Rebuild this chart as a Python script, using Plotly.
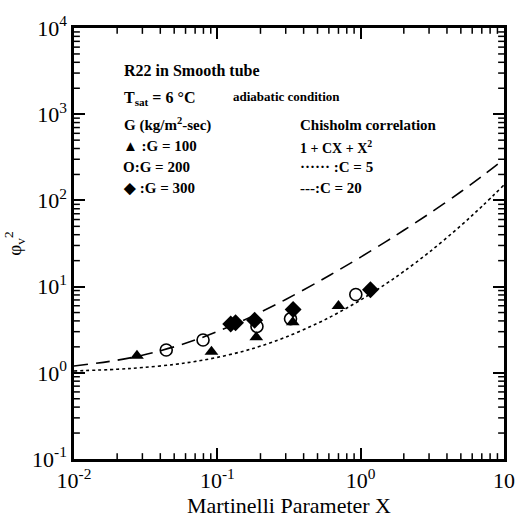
import plotly.graph_objects as go

# Data
g100_x = [0.0275, 0.091, 0.187, 0.336, 0.70]
g100_y = [1.58, 1.75, 2.59, 3.86, 5.97]
g200_x = [0.044, 0.0795, 0.189, 0.324, 0.925]
g200_y = [1.84, 2.40, 3.45, 4.23, 8.1]
g300_x = [0.124, 0.134, 0.182, 0.338, 1.17]
g300_y = [3.68, 3.80, 4.07, 5.42, 9.2]

# Chisholm correlation curves read at sample points
curve_x = [0.01, 0.02, 0.03, 0.05, 0.07, 0.1, 0.15, 0.2, 0.3, 0.5, 0.7, 1, 1.5, 2, 3, 5, 7, 10]
c5_y = [1.05, 1.10, 1.15, 1.25, 1.355, 1.51, 1.77, 2.04, 2.59, 3.75, 4.99, 7.0, 10.75, 15.0, 25.0, 51.0, 85.0, 151.0]
c20_y = [1.20, 1.40, 1.60, 2.00, 2.40, 3.01, 4.02, 5.04, 7.09, 11.25, 15.49, 22.0, 33.25, 45.0, 70.0, 126.0, 190.0, 301.0]

x_tickvals = [0.01, 0.1, 1, 10]
x_ticktext = ["10<sup>-2</sup>", "10<sup>-1</sup>", "10<sup>0</sup>", "10"]
y_tickvals = [0.1, 1, 10, 100, 1000, 10000]
y_ticktext = ["10<sup>-1</sup>", "10<sup>0</sup>", "10<sup>1</sup>", "10<sup>2</sup>", "10<sup>3</sup>", "10<sup>4</sup>"]
x_decades = [0.01, 0.1, 1]
y_decades = [0.1, 1, 10, 100, 1000]
minor_mult = [2, 3, 4, 5, 6, 7, 8, 9]
x_minor = [d * m for d in x_decades for m in minor_mult]
y_minor = [d * m for d in y_decades for m in minor_mult]

FONT = "Liberation Serif"

fig = go.Figure()
fig.add_trace(go.Scatter(x=curve_x, y=c5_y, mode="lines", line=dict(color="black", width=1.6, dash="dot", shape="spline")))
fig.add_trace(go.Scatter(x=curve_x, y=c20_y, mode="lines", line=dict(color="black", width=1.6, dash="14px,8px", shape="spline")))
fig.add_trace(go.Scatter(x=g100_x, y=g100_y, mode="markers", marker=dict(symbol="triangle-up", size=12, color="black")))
fig.add_trace(go.Scatter(x=g200_x, y=g200_y, mode="markers", marker=dict(symbol="circle-open", size=12, color="black", line=dict(width=1.6))))
fig.add_trace(go.Scatter(x=g300_x, y=g300_y, mode="markers", marker=dict(symbol="diamond", size=13, color="black")))

axis_common = dict(
    type="log", showline=True, linecolor="black", linewidth=2.5, mirror="ticks",
    ticks="inside", ticklen=11, tickwidth=2, tickcolor="black", showgrid=False, zeroline=False,
    tickfont=dict(family=FONT, size=22, color="black"),
)

fig.update_layout(
    xaxis=dict(range=[-2, 1], tickmode="array", tickvals=x_tickvals, ticktext=x_ticktext,
               title=dict(text="Martinelli Parameter X", font=dict(family=FONT, size=22, color="black"), standoff=0),
               **axis_common),
    yaxis=dict(range=[-1, 4], tickmode="array", tickvals=y_tickvals, ticktext=y_ticktext,
               title=dict(text="φ<sub>v</sub><sup>2</sup>", font=dict(family=FONT, size=19, color="black"), standoff=6),
               **axis_common),
)

# minor ticks on all four sides, placed through the axes' own scales
MINOR_LEN = 6
L, R, T, B = 74, 14, 19, 60
W, H = 527, 521
pw, ph = W - L - R, H - T - B
for v in x_minor:
    for y0, y1 in [(0, MINOR_LEN / ph), (1, 1 - MINOR_LEN / ph)]:
        fig.add_shape(type="line", xref="x", yref="paper", x0=v, x1=v, y0=y0, y1=y1,
                      line=dict(color="black", width=1.5))
for v in y_minor:
    for x0, x1 in [(0, MINOR_LEN / pw), (1, 1 - MINOR_LEN / pw)]:
        fig.add_shape(type="line", xref="paper", yref="y", x0=x0, x1=x1, y0=v, y1=v,
                      line=dict(color="black", width=1.5))

def txt(x, y, s, size=15):
    fig.add_annotation(x=x, y=y, xref="paper", yref="paper", text=s, showarrow=False,
                       xanchor="left", yanchor="middle", font=dict(family=FONT, size=size, color="black"))

def px(xp):
    return (xp - L) / pw
def py(yp):
    return 1 - (yp - T) / ph

txt(px(123), py(63), "<b>R22 in Smooth tube</b>", 16)
txt(px(123), py(91), "<b>T<sub>sat</sub> = 6 °C</b>", 16)
txt(px(234), py(89), "<b>adiabatic condition</b>", 13)
txt(px(123), py(118), "<b>G (kg/m<sup>2</sup>-sec)</b>", 15)
txt(px(122), py(140), "<b>▲ :G = 100</b>", 15)
txt(px(122), py(162), "<b>O:G = 200</b>", 15)
txt(px(122), py(183), "<b>◆ :G = 300</b>", 15)
txt(px(303), py(118), "<b>Chisholm correlation</b>", 15)
txt(px(303), py(141), "<b>1 + CX + X<sup>2</sup></b>", 14)
txt(px(303), py(162), "<b>······ :C = 5</b>", 15)
txt(px(303), py(183), "<b>---:C = 20</b>", 15)

fig.update_layout(
    width=W, height=H, margin=dict(l=L, r=R, t=T, b=B),
    paper_bgcolor="white", plot_bgcolor="white", showlegend=False,
)
fig.write_html("out.html")
